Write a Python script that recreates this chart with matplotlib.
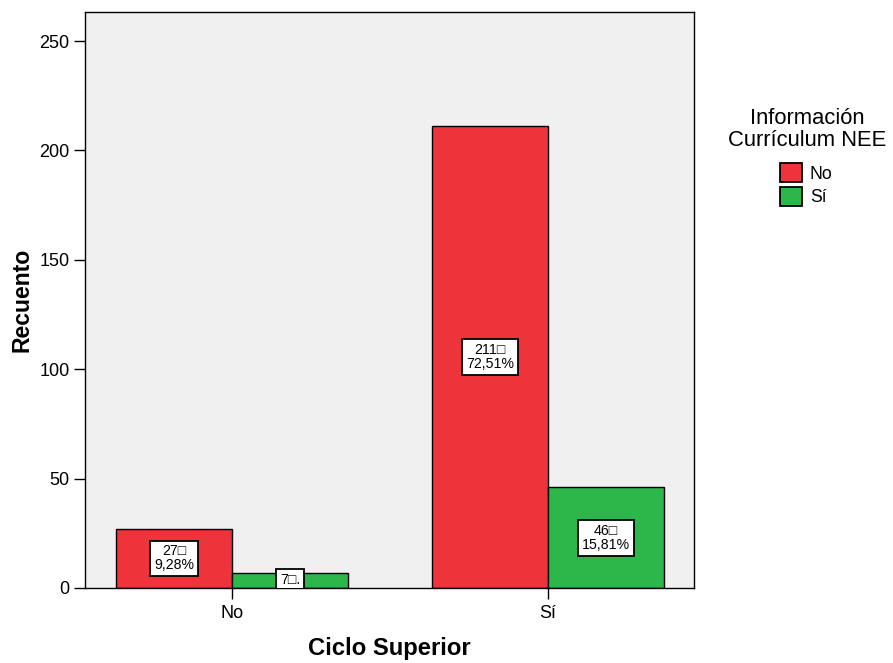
import matplotlib
matplotlib.use("Agg")
import matplotlib.pyplot as plt
import numpy as np
from matplotlib.patches import Patch

plt.rcParams['font.family'] = ['Liberation Sans', 'DejaVu Sans']

categories = ["No", "Sí"]
series_names = ["No", "Sí"]
counts_no = [27, 211]
counts_si = [7, 46]
labels_no = ["27\u25a1\n9,28%", "211\u25a1\n72,51%"]
labels_si = ["7\u25a1.", "46\u25a1\n15,81%"]
colors = ["#EF333B", "#2DB74B"]

fig = plt.figure(figsize=(8.93, 6.63), dpi=100)
ax = fig.add_axes([85/893, 1-588/663, (694-85)/893, (588-12)/663])
ax.set_facecolor("#F0F0F0")

x = np.arange(len(categories))
w = 0.367
for vals, labs, col, off in [(counts_no, labels_no, colors[0], -w/2),
                             (counts_si, labels_si, colors[1], w/2)]:
    ax.bar(x + off, vals, width=w, color=col, edgecolor="black", linewidth=1.0, zorder=2)
    for xi, v, lab in zip(x + off, vals, labs):
        ax.text(xi, v/2, lab, ha="center", va="center", fontsize=10.2, linespacing=1.0,
                zorder=3, clip_on=True,
                bbox=dict(boxstyle="square,pad=0.28", fc="white", ec="black", lw=1.3))

ax.set_xlim(-0.465, 1.462)
ax.set_ylim(0, 263.3)
ax.set_yticks([0, 50, 100, 150, 200, 250])
ax.set_xticks(x)
ax.set_xticklabels(categories)
ax.tick_params(axis="both", labelsize=13, length=8, width=1, pad=3, direction="out", colors="black")
ax.tick_params(axis="x", pad=4)
for s in ax.spines.values():
    s.set_linewidth(1.0)
    s.set_color("black")

ax.set_ylabel("Recuento", fontsize=16.6, fontweight="bold", labelpad=4)
ax.set_xlabel("Ciclo Superior", fontsize=17.2, fontweight="bold", labelpad=11)

# legend title and entries
fig.text(807/893, 1-146/663, "Información\nCurrículum NEE", ha="center", va="baseline",
         fontsize=15.8, linespacing=1.05, multialignment="center")
handles = [Patch(facecolor=c, edgecolor="black", linewidth=1.3) for c in colors]
leg = fig.legend(handles, series_names, loc="upper left",
                 bbox_to_anchor=(780/893, 1-163/663),
                 frameon=False, fontsize=12.7,
                 handlelength=1.25, handleheight=1.3, handletextpad=0.45,
                 labelspacing=0.25, borderpad=0, borderaxespad=0)

fig.savefig("out.png", dpi=100)
